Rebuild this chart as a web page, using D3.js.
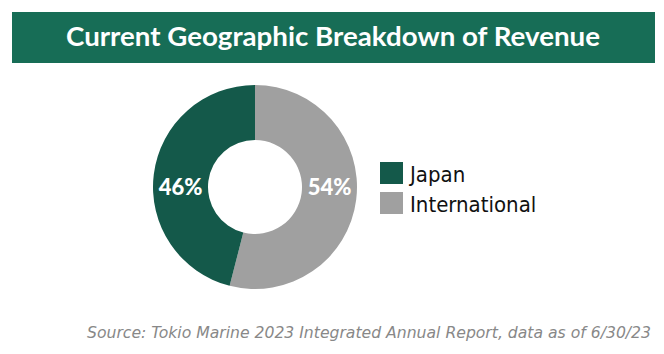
<!DOCTYPE html>
<html><head><meta charset="utf-8">
<script src="https://cdn.jsdelivr.net/npm/d3@7"></script>
<style>body{margin:0;background:#fff}svg{display:block}</style>
</head><body>
<script>
const title = "Current Geographic Breakdown of Revenue";
const categories = ["Japan", "International"];
const values = [46, 54];
const colors = ["#14594a", "#a0a0a0"];
const source = "Source: Tokio Marine 2023 Integrated Annual Report, data as of 6/30/23";

const W = 664, H = 354;
const svg = d3.select("body").append("svg").attr("width", W).attr("height", H);

svg.append("rect").attr("x", 12).attr("y", 12).attr("width", 643).attr("height", 51).attr("fill", "#176d56");
svg.append("text").attr("x", 66).attr("y", 46)
  .attr("fill", "#fff").attr("font-family", "Lato").attr("font-weight", "bold")
  .attr("font-size", 27).attr("textLength", 534).attr("lengthAdjust", "spacingAndGlyphs").text(title);

const cx = 255, cy = 187, rOut = 102, rIn = 47;
const data = categories.map((c, i) => ({cat: c, value: values[i], color: colors[i]}));
// International drawn clockwise from the top, Japan fills the rest
const pie = d3.pie().sort(null).value(d => d.value);
const arcs = pie([data[1], data[0]]);
const arc = d3.arc().innerRadius(rIn).outerRadius(rOut);
const g = svg.append("g").attr("transform", `translate(${cx},${cy})`);
g.selectAll("path").data(arcs).join("path").attr("d", arc).attr("fill", d => d.data.color);

const rMid = (rIn + rOut) / 2;
g.selectAll("text.lbl").data(arcs).join("text").attr("class", "lbl")
  .attr("x", d => ((d.startAngle + d.endAngle) / 2 < Math.PI ? 1 : -1) * rMid)
  .attr("y", 8).attr("text-anchor", "middle").attr("fill", "#fff")
  .attr("font-family", "Lato").attr("font-weight", "900").attr("font-size", 22)
  .text(d => d.data.value + "%");

const lg = svg.append("g").attr("transform", "translate(380,162)");
const items = lg.selectAll("g").data(data).join("g").attr("transform", (d, i) => `translate(0,${i * 30})`);
items.append("rect").attr("width", 23).attr("height", 22).attr("fill", d => d.color);
items.append("text").attr("x", 30).attr("y", 20).attr("fill", "#111")
  .attr("font-family", "DejaVu Sans Condensed, DejaVu Sans").attr("font-stretch", "condensed").attr("font-size", 22).text(d => d.cat);

svg.append("text").attr("x", 87).attr("y", 338)
  .attr("fill", "#888").attr("font-family", "DejaVu Sans Condensed, DejaVu Sans").attr("font-stretch", "condensed")
  .attr("font-style", "italic").attr("font-size", 16)
  .attr("textLength", 564).attr("lengthAdjust", "spacingAndGlyphs").text(source);
</script>
</body></html>
